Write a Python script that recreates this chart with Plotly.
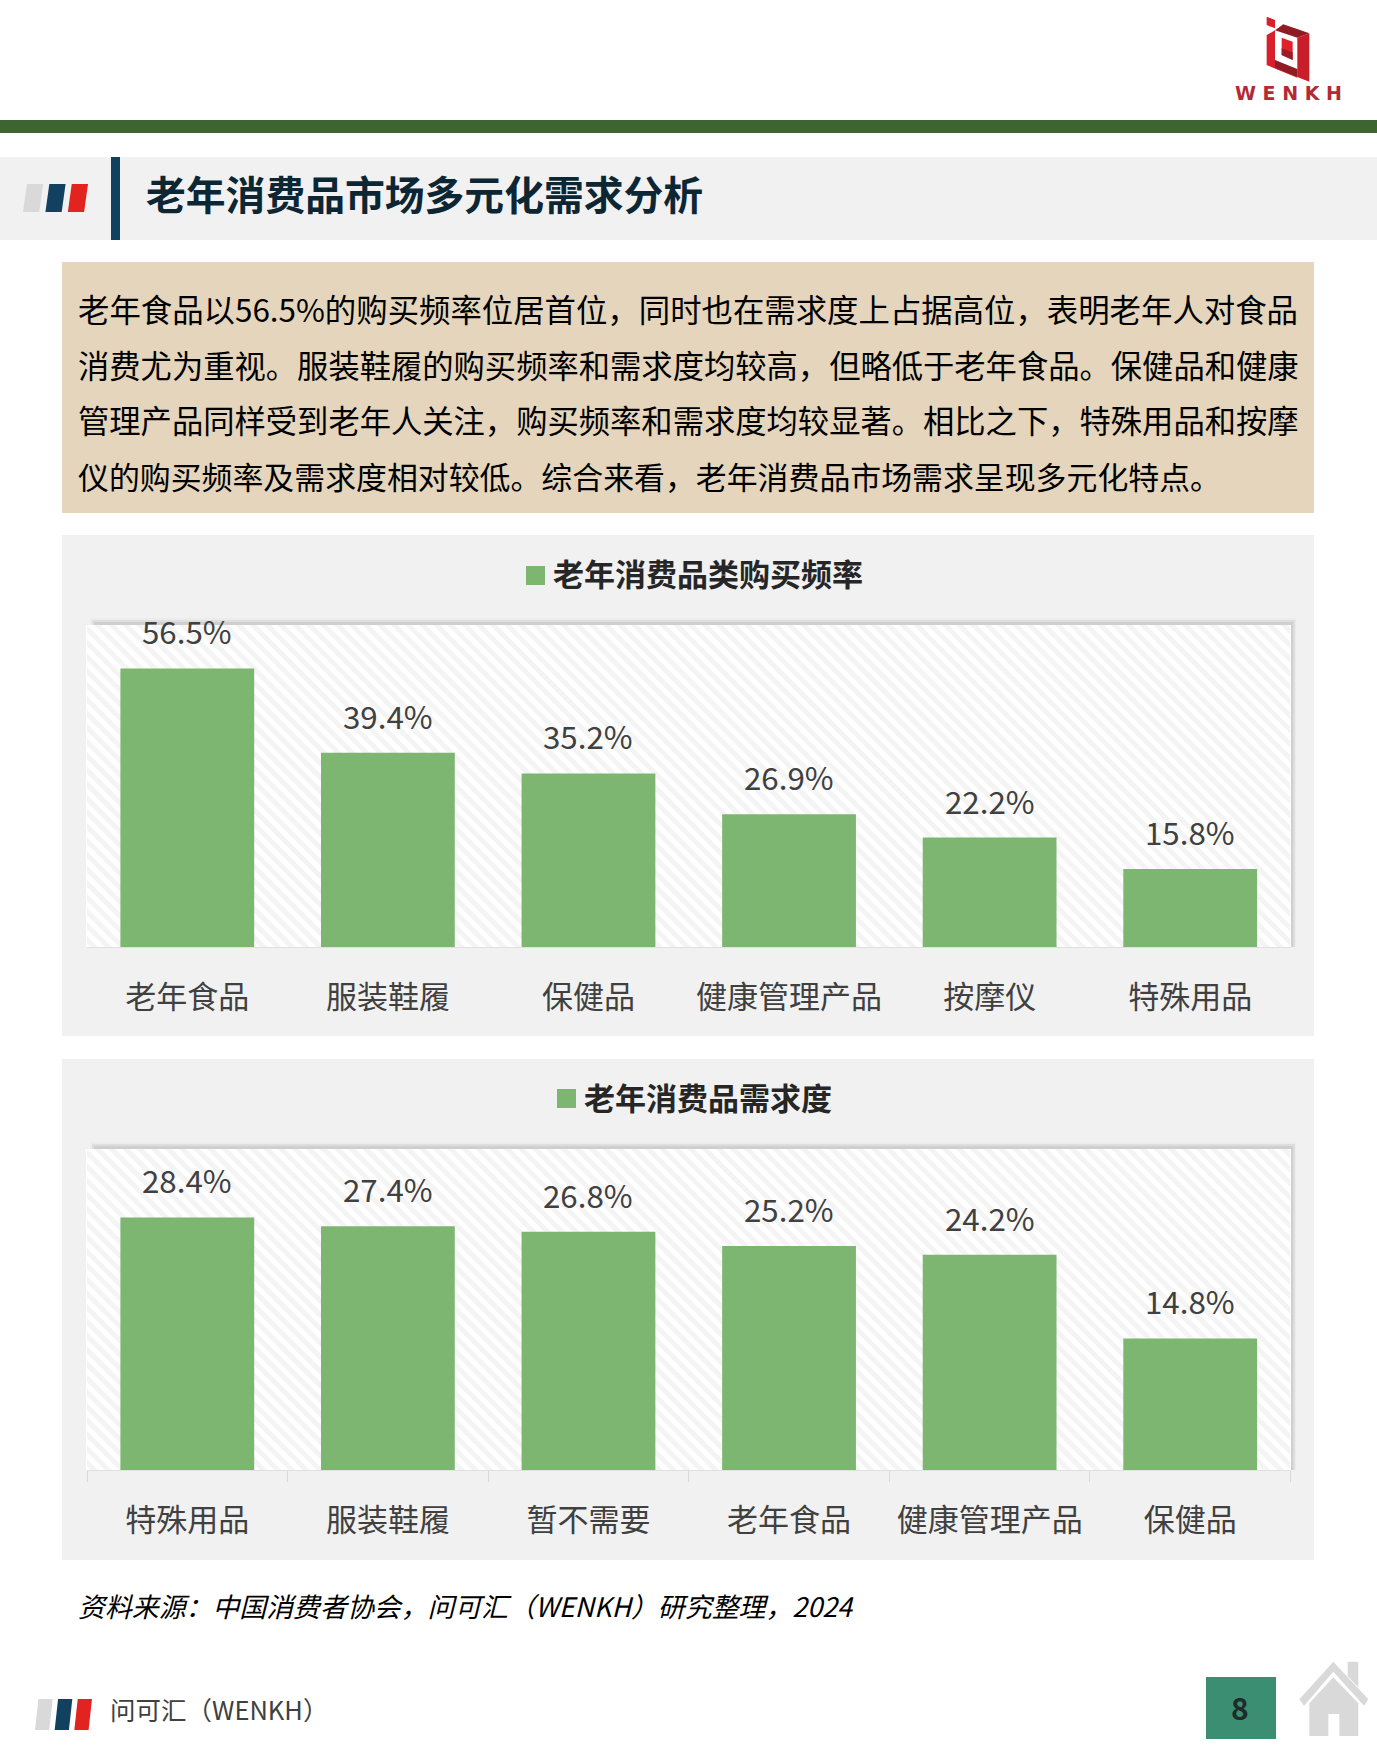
import base64
import plotly.graph_objects as go

W, H = 1377, 1753

categories_freq = ["老年食品", "服装鞋履", "保健品", "健康管理产品", "按摩仪", "特殊用品"]
values_freq = [56.5, 39.4, 35.2, 26.9, 22.2, 15.8]
categories_demand = ["特殊用品", "服装鞋履", "暂不需要", "老年食品", "健康管理产品", "保健品"]
values_demand = [28.4, 27.4, 26.8, 25.2, 24.2, 14.8]
title_freq = "老年消费品类购买频率"
title_demand = "老年消费品需求度"
main_title = "老年消费品市场多元化需求分析"
summary_lines = [
    "老年食品以56.5%的购买频率位居首位，同时也在需求度上占据高位，表明老年人对食品",
    "消费尤为重视。服装鞋履的购买频率和需求度均较高，但略低于老年食品。保健品和健康",
    "管理产品同样受到老年人关注，购买频率和需求度均较显著。相比之下，特殊用品和按摩",
    "仪的购买频率及需求度相对较低。综合来看，老年消费品市场需求呈现多元化特点。",
]
source_text = "资料来源：中国消费者协会，问可汇（WENKH）研究整理，2024"
footer_text = "问可汇（WENKH）"
page_no = "8"

CJK = "Noto Sans CJK SC"
GREEN = "#7CB670"
LABEL = "#404040"


def fx(x):
    return x / W


def fy(y):
    return 1 - y / H


shapes = []
annotations = []


def poly(points, color, line=None):
    path = "M" + " L".join(f"{fx(x):.5f},{fy(y):.5f}" for x, y in points) + " Z"
    shapes.append(dict(type="path", xref="paper", yref="paper", path=path,
                       fillcolor=color, line=dict(width=0), layer="below"))


def rect(x0, y0, x1, y1, color):
    shapes.append(dict(type="rect", xref="paper", yref="paper", x0=fx(x0), x1=fx(x1),
                       y0=fy(y0), y1=fy(y1), fillcolor=color, line=dict(width=0), layer="below"))


def text(s, x, y, size, color="#000000", anchor="left", weight=None, style=None, family=CJK):
    annotations.append(dict(text=s, xref="paper", yref="paper", x=fx(x), y=fy(y),
                            xanchor=anchor, yanchor="middle", showarrow=False,
                            align=anchor,
                            borderpad=0,
                            font=dict(size=size, color=color, family=family,
                                      weight=weight, style=style)))


def stripes(x0, y0, x1, y1):
    w = (x1 - x0)
    sl = w * 0.06
    sw = w * 0.25
    gap = (w - sl - 3 * sw) / 2
    for i, c in enumerate(["#D9D9D9", "#12405F", "#E2231F"]):
        a = x0 + i * (sw + gap)
        poly([(a + sl, y0), (a + sl + sw, y0), (a + sw, y1), (a, y1)], c)


# Header
rect(0, 120, W, 133, "#3D6431")
rect(0, 157, W, 240, "#F1F1F1")
rect(111, 157, 120, 240, "#12405F")
stripes(23, 184, 88, 212)
text(main_title, 145, 193, 39.8, "#0D2633", weight="bold")

# Logo
def lg(pts):
    return [(1220 + a / 3, 5 + b / 3) for a, b in pts]


poly(lg([(140, 35), (165, 45), (165, 70), (140, 60)]), "#D8202C")
poly(lg([(140, 90), (165, 76), (165, 172), (232, 196), (232, 218), (140, 180)]), "#D8202C")
poly(lg([(165, 76), (190, 58), (268, 85), (232, 98)]), "#8F1C24")
poly(lg([(232, 98), (268, 85), (268, 230), (232, 216)]), "#C81E2A")
poly(lg([(165, 165), (232, 192), (232, 216), (165, 188)]), "#8F1C24")
poly(lg([(185, 98), (218, 110), (218, 165), (185, 150)]), "#E0202C")
poly(lg([(185, 130), (218, 142), (218, 165), (185, 150)]), "#9B1D26")
text("W E N K H", 1288.5, 93.5, 19, "#B32A36", anchor="center", weight="bold", family="DejaVu Sans")

# Summary box
rect(62, 262, 1314, 513, "#E4D5BC")
for line, yc, fs in zip(summary_lines, [309, 364, 419, 476], [31.4, 31.3, 31.3, 30.9]):
    text(line, 77, yc, fs, "#000000")


def panel(top, bottom, plot_top, plot_bottom):
    rect(62, top, 1314, bottom, "#F1F1F1")
    rect(90, plot_top - 7, 1296, plot_bottom, "#ECECEC")
    rect(92, plot_top - 5, 1295, plot_bottom, "#DEDEDE")
    rect(94, plot_top - 3, 1293, plot_bottom, "#CFCFCF")
    rect(86, plot_top, 1291, plot_bottom, "#FFFFFF")


panel(535, 1036, 625, 947)
panel(1059, 1560, 1149, 1470)

rect(526, 566, 545, 585, GREEN)
text(title_freq, 552, 572, 31, "#262626", weight="bold")
rect(557, 1089, 576, 1108, GREEN)
text(title_demand, 583, 1096, 31, "#262626", weight="bold")

# Source & footer
text(source_text, 77, 1605, 26.9, "#000000", style="italic")
stripes(35, 1699, 92, 1730)
text(footer_text, 109, 1708, 25.5, "#404040")
rect(1206, 1677, 1276, 1739, "#3C8E73")
text(page_no, 1240, 1707, 30, "#1F2A2A", anchor="center", weight="bold")


def hm(pts):
    return [(1190 + a / 3, 1650 + b / 3) for a, b in pts]


home = "#D9D9D9"
poly(hm([(430, 35), (535, 148), (522, 167), (430, 65), (342, 167), (328, 148)]), home)
poly(hm([(473, 35), (505, 35), (505, 112), (473, 78)]), home)
poly(hm([(430, 82), (505, 160), (505, 258), (448, 258), (448, 192), (415, 192), (415, 258), (358, 258), (358, 160)]), home)

# Hatched plot background
svg = ('<svg xmlns="http://www.w3.org/2000/svg" width="1205" height="322">'
       '<defs><pattern id="p" patternUnits="userSpaceOnUse" width="10" height="10" '
       'patternTransform="rotate(45)"><rect width="10" height="10" fill="#FFFFFF"/>'
       '<rect width="10" height="5" fill="#F4F4F4"/></pattern></defs>'
       '<rect width="1205" height="322" fill="url(#p)"/></svg>')
hatch = "data:image/svg+xml;base64," + base64.b64encode(svg.encode()).decode()
images = [dict(source=hatch, xref=f"{a} domain", yref=f"{b} domain", x=0, y=1, sizex=1, sizey=1,
               xanchor="left", yanchor="top", sizing="stretch", layer="below")
          for a, b in (("x", "y"), ("x2", "y2"))]

fig = go.Figure()
for cats, vals, xa, ya in ((categories_freq, values_freq, "x", "y"),
                           (categories_demand, values_demand, "x2", "y2")):
    fig.add_trace(go.Bar(x=cats, y=vals, xaxis=xa, yaxis=ya,
                         marker=dict(color=GREEN, line=dict(width=0)),
                         showlegend=False, hoverinfo="skip"))
    # Value labels sit well above the bar ends, further than the bar's own outside text allows.
    for c, v in zip(cats, vals):
        annotations.append(dict(text=f"{v:.1f}%", xref=xa, yref=ya, x=c, y=v, yshift=37.5,
                                xanchor="center", yanchor="middle", showarrow=False, borderpad=0,
                                font=dict(size=31.3, color=LABEL, family=CJK)))


def xaxis(domain_anchor, tickcolor):
    return dict(domain=[fx(87), fx(1290.5)], anchor=domain_anchor, type="category",
                showline=True, linecolor="#E0E0E0", linewidth=1, showgrid=False, zeroline=False,
                ticks="outside", ticklen=11, tickcolor=tickcolor, tickwidth=1, tickson="boundaries",
                ticklabelstandoff=23, fixedrange=True,
                tickfont=dict(size=31, color=LABEL, family=CJK))


def yaxis(domain_top, domain_bottom, vmax, anchor):
    return dict(domain=[fy(domain_bottom), fy(domain_top)], range=[0, vmax], anchor=anchor,
                visible=False, showgrid=False, zeroline=False, fixedrange=True)


fig.update_layout(
    width=W, height=H, margin=dict(l=0, r=0, t=0, b=0, pad=0),
    paper_bgcolor="#FFFFFF", plot_bgcolor="rgba(0,0,0,0)", bargap=0.333,
    xaxis=xaxis("y", "rgba(0,0,0,0)"),
    yaxis=yaxis(625, 947, 65.3, "x"),
    xaxis2=xaxis("y2", "#D9D9D9"),
    yaxis2=yaxis(1149, 1470, 36.1, "x2"),
    shapes=shapes, annotations=annotations, images=images,
)

fig.write_html("out.html", config={"displayModeBar": False},
               post_script="document.body.style.margin='0';document.documentElement.style.overflow='hidden';")
